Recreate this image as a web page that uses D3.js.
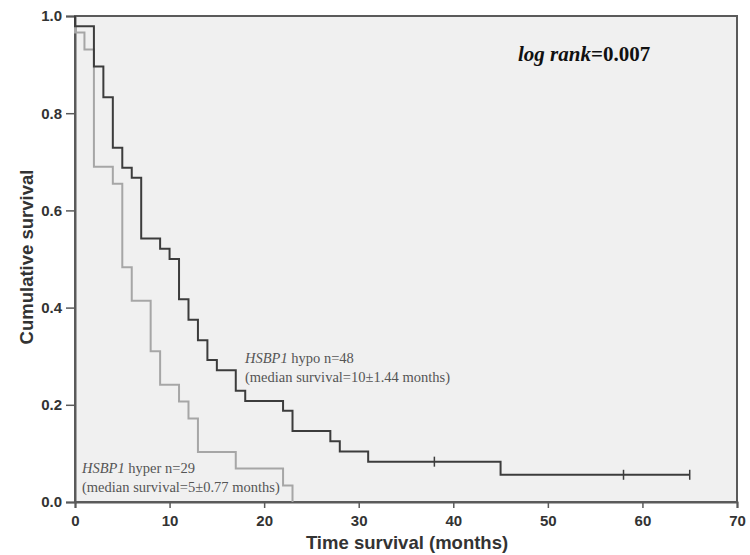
<!DOCTYPE html>
<html>
<head>
<meta charset="utf-8">
<script src="https://cdn.jsdelivr.net/npm/d3@7"></script>
<style>
  body { margin: 0; background: #fff; }
  svg { display: block; }
</style>
</head>
<body>
<div id="chart"></div>
<script>
// Kaplan-Meier steps
var hypoTime = [0, 2, 3, 4, 5, 6, 7, 9, 10, 11, 12, 13, 14, 15, 17, 18, 22, 23, 27, 28, 31, 45, 65];
var hypoSurv = [0.979, 0.896, 0.833, 0.729, 0.688, 0.667, 0.542, 0.521, 0.500, 0.417, 0.375, 0.333, 0.292, 0.271, 0.229, 0.208, 0.188, 0.146, 0.125, 0.104, 0.083, 0.056, 0.056];
var hypoCensor = [38, 58, 65];

var hyperTime = [0, 1, 2, 4, 5, 6, 8, 9, 11, 12, 13, 17, 22, 23];
var hyperSurv = [0.966, 0.931, 0.690, 0.655, 0.483, 0.414, 0.310, 0.241, 0.207, 0.172, 0.103, 0.069, 0.034, 0];

var xTicks = [0, 10, 20, 30, 40, 50, 60, 70];
var yTicks = [0.0, 0.2, 0.4, 0.6, 0.8, 1.0];

var width = 750, height = 555;
var margin = {left: 75, right: 13, top: 16, bottom: 53};

var svg = d3.select("#chart").append("svg")
  .attr("width", width)
  .attr("height", height);

var x = d3.scaleLinear().domain([0, 70]).range([margin.left, width - margin.right]);
var y = d3.scaleLinear().domain([0, 1]).range([height - margin.bottom, margin.top]);

// plot background
svg.append("rect")
  .attr("x", x(0))
  .attr("y", y(1))
  .attr("width", x(70) - x(0))
  .attr("height", y(0) - y(1))
  .style("fill", "#f0f0f0")
  .style("stroke", "#5a5a5a")
  .style("stroke-width", 2);

// axes
var xAxis = d3.axisBottom(x).tickValues(xTicks).tickSize(6).tickFormat(d3.format("d"));
var yAxis = d3.axisLeft(y).tickValues(yTicks).tickSize(9).tickFormat(d3.format(".1f"));

var gx = svg.append("g")
  .attr("transform", "translate(0," + y(0) + ")")
  .call(xAxis);
var gy = svg.append("g")
  .attr("transform", "translate(" + x(0) + ",0)")
  .call(yAxis);

[gx, gy].forEach(function(g) {
  g.select(".domain").style("stroke", "#5a5a5a").style("stroke-width", 2);
  g.selectAll(".tick line").style("stroke", "#5a5a5a").style("stroke-width", 1.5);
  g.selectAll(".tick text")
    .style("font-family", "'Liberation Sans', Arial, sans-serif")
    .style("font-weight", "bold")
    .style("font-size", "15px")
    .style("fill", "#333");
});
gx.selectAll(".tick text").attr("dy", "1.0em");
gy.selectAll(".tick text").attr("x", -13);

// axis titles
svg.append("text")
  .attr("x", 407)
  .attr("y", 549)
  .attr("text-anchor", "middle")
  .style("font-family", "'Liberation Sans', Arial, sans-serif")
  .style("font-weight", "bold")
  .style("font-size", "18.5px")
  .style("fill", "#333")
  .text("Time survival (months)");

svg.append("text")
  .attr("transform", "translate(33,257) rotate(-90)")
  .attr("text-anchor", "middle")
  .style("font-family", "'Liberation Sans', Arial, sans-serif")
  .style("font-weight", "bold")
  .style("font-size", "18.5px")
  .style("fill", "#333")
  .text("Cumulative survival");

// step curves
function stepPoints(times, surv) {
  var pts = [[0, 1]];
  for (var i = 0; i < times.length; i++) {
    pts.push([times[i], surv[i]]);
  }
  return pts;
}

var line = d3.line()
  .x(function(d) { return x(d[0]); })
  .y(function(d) { return y(d[1]); })
  .curve(d3.curveStepAfter);

svg.append("path")
  .datum(stepPoints(hyperTime, hyperSurv))
  .attr("d", line)
  .style("fill", "none")
  .style("stroke", "#a6a6a6")
  .style("stroke-width", 2);

svg.append("path")
  .datum(stepPoints(hypoTime, hypoSurv))
  .attr("d", line)
  .style("fill", "none")
  .style("stroke", "#3c3c3c")
  .style("stroke-width", 2);

// censor marks
function survAt(t) {
  var s = 1;
  for (var i = 0; i < hypoTime.length; i++) {
    if (hypoTime[i] <= t) s = hypoSurv[i];
  }
  return s;
}

svg.selectAll(".censor")
  .data(hypoCensor)
  .enter()
  .append("line")
  .attr("class", "censor")
  .attr("x1", function(d) { return x(d); })
  .attr("x2", function(d) { return x(d); })
  .attr("y1", function(d) { return y(survAt(d)) - 5; })
  .attr("y2", function(d) { return y(survAt(d)) + 5; })
  .style("stroke", "#3c3c3c")
  .style("stroke-width", 1.5);

// annotations
var serif = "'Liberation Serif', 'Times New Roman', serif";

var lr = svg.append("text")
  .attr("x", 518)
  .attr("y", 61)
  .style("font-family", serif)
  .style("font-weight", "bold")
  .style("font-size", "21px")
  .style("fill", "#111");
lr.append("tspan").style("font-style", "italic").text("log rank");
lr.append("tspan").text("=0.007");

function label(xp, yp, kind) {
  var t = svg.append("text")
    .attr("x", xp)
    .attr("y", yp)
    .style("font-family", serif)
    .style("font-size", "14.5px")
    .style("fill", "#555");
  t.append("tspan").style("font-style", "italic").text("HSBP1");
  t.append("tspan").text("\u00a0" + kind[0]);
  svg.append("text")
    .attr("x", xp)
    .attr("y", yp + 19)
    .style("font-family", serif)
    .style("font-size", "14.5px")
    .style("fill", "#555")
    .text(kind[1]);
}

label(245, 363, ["hypo n=48", "(median survival=10\u00b11.44 months)"]);
label(82, 473, ["hyper n=29", "(median survival=5\u00b10.77 months)"]);
</script>
</body>
</html>
